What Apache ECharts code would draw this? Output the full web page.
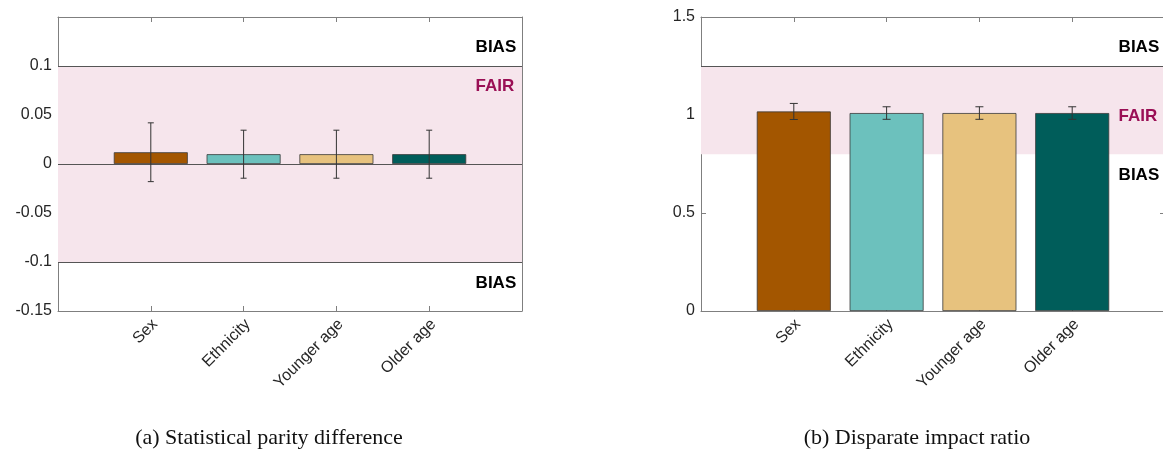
<!DOCTYPE html>
<html><head><meta charset="utf-8">
<script src="https://cdn.jsdelivr.net/npm/echarts@6/dist/echarts.min.js"></script>
<style>html,body{margin:0;padding:0;background:#fff;overflow:hidden}#c{width:1170px;height:449px}</style>
</head><body><div id="c"></div>
<script>
// ---- data ----
const categories = ['Sex', 'Ethnicity', 'Younger age', 'Older age'];
const barColors = ['#a35600', '#6cc1bd', '#e7c27e', '#005d5a'];
const spdValues = [0.012, 0.010, 0.010, 0.010];
const spdErrors = [0.030, 0.0245, 0.0245, 0.0245];
const dirValues = [1.018, 1.010, 1.010, 1.010];
const dirErrors = [0.041, 0.032, 0.032, 0.032];
const spdFairBand = [-0.1, 0.1];
const dirFairBand = [0.8, 1.25];
const spdTicks = [-0.15, -0.1, -0.05, 0, 0.05, 0.1];
const dirTicks = [0, 0.5, 1, 1.5];
const spdNotes = [[4.5, 0.119, 'BIAS'], [4.5, 0.079, 'FAIR'], [4.5, -0.122, 'BIAS']];
const dirNotes = [[4.5, 1.345, 'BIAS'], [4.5, 0.995, 'FAIR'], [4.5, 0.694, 'BIAS']];
const captions = ['(a) Statistical parity difference', '(b) Disparate impact ratio'];

const chart = echarts.init(document.getElementById('c'));
const AX = '#7f7f7f', TXT = '#262626', FONT = '"Liberation Sans", Arial, sans-serif';
const SERIF = '"Liberation Serif", "Times New Roman", serif';

function xAxes(gi) {
  return [
    { gridIndex: gi, type: 'value', min: 0, max: 5, interval: 1, position: 'bottom',
      axisLine: { show: true, onZero: false, lineStyle: { color: AX, width: 1 } },
      axisTick: { show: true, inside: true, length: 5, lineStyle: { color: AX } },
      splitLine: { show: false },
      axisLabel: { rotate: 45, color: TXT, fontFamily: FONT, fontSize: 16, margin: 15,
        padding: [11, -6, 0, 0],
        formatter: v => (v >= 1 && v <= categories.length) ? categories[v - 1] : '' } },
    { gridIndex: gi, type: 'value', min: 0, max: 5, interval: 1, position: 'top',
      axisLine: { show: true, onZero: false, lineStyle: { color: AX, width: 1 } },
      axisTick: { show: true, inside: true, length: 5, lineStyle: { color: AX } },
      splitLine: { show: false }, axisLabel: { show: false } }
  ];
}
function yAxes(gi, min, max, interval, ticks) {
  return [
    { gridIndex: gi, type: 'value', min, max, interval, position: 'left',
      axisLine: { show: true, onZero: false, lineStyle: { color: AX, width: 1 } },
      axisTick: { show: true, inside: true, length: 5, lineStyle: { color: AX } },
      splitLine: { show: false },
      axisLabel: { color: TXT, fontFamily: FONT, fontSize: 16, margin: 6,
        formatter: v => { const r = +v.toFixed(2); return ticks.some(t => Math.abs(t - r) < 1e-9) ? String(r) : ''; } } },
    { gridIndex: gi, type: 'value', min, max, interval, position: 'right',
      axisLine: { show: true, onZero: false, lineStyle: { color: AX, width: 1 } },
      axisTick: { show: true, inside: true, length: 5, lineStyle: { color: AX } },
      splitLine: { show: false }, axisLabel: { show: false } }
  ];
}

function barSeries(xi, yi, values) {
  return { type: 'bar', xAxisIndex: xi, yAxisIndex: yi, barWidth: 74, z: 3, silent: true,
    data: values.map((v, i) => ({ value: [i + 1, v], itemStyle: { color: barColors[i], borderColor: '#3a3a3a', borderWidth: 0.8 } })) };
}
function errSeries(xi, yi, values, errs, cap) {
  return { type: 'custom', xAxisIndex: xi, yAxisIndex: yi, z: 5, silent: true,
    data: values.map((v, i) => [i + 1, v - errs[i], v + errs[i]]),
    renderItem: (params, api) => {
      const lo = api.coord([api.value(0), api.value(1)]);
      const hi = api.coord([api.value(0), api.value(2)]);
      const st = { stroke: '#333', lineWidth: 1 };
      return { type: 'group', children: [
        { type: 'line', shape: { x1: lo[0], y1: lo[1], x2: hi[0], y2: hi[1] }, style: st },
        { type: 'line', shape: { x1: lo[0] - cap, y1: lo[1], x2: lo[0] + cap, y2: lo[1] }, style: st },
        { type: 'line', shape: { x1: hi[0] - cap, y1: hi[1], x2: hi[0] + cap, y2: hi[1] }, style: st }
      ] };
    } };
}
function bandSeries(xi, yi, band, lines) {
  return { type: 'line', xAxisIndex: xi, yAxisIndex: yi, data: [], z: 1, silent: true,
    markArea: { silent: true, itemStyle: { color: '#f6e5ec' }, data: [[{ yAxis: band[0] }, { yAxis: band[1] }]] },
    markLine: { silent: true, symbol: 'none', label: { show: false },
      lineStyle: { color: '#555', width: 1, type: 'solid' },
      data: lines.map(y => ({ yAxis: y })) } };
}
function noteSeries(xi, yi, notes) {
  return { type: 'custom', xAxisIndex: xi, yAxisIndex: yi, z: 6, silent: true,
    data: notes.map(n => [n[0], n[1]]),
    renderItem: (params, api) => {
      const p = api.coord([api.value(0), api.value(1)]);
      const t = notes[params.dataIndex][2];
      return { type: 'text', x: p[0], y: p[1],
        style: { text: t, fill: t === 'FAIR' ? '#9a0f55' : '#000',
          font: 'bold 17px ' + FONT, textAlign: 'left', textVerticalAlign: 'middle',
          align: 'left', verticalAlign: 'middle' } };
    } };
}

chart.setOption({
  animation: false,
  grid: [
    { left: 58, top: 17, width: 464, height: 294 },
    { left: 701, top: 17, width: 464, height: 294 }
  ],
  xAxis: [...xAxes(0), ...xAxes(1)],
  yAxis: [...yAxes(0, -0.15, 0.15, 0.05, spdTicks), ...yAxes(1, 0, 1.5, 0.5, dirTicks)],
  title: [
    { text: captions[0], left: 264, top: 422, textAlign: 'center',
      textStyle: { fontFamily: SERIF, fontWeight: 'normal', fontSize: 22, color: '#111' } },
    { text: captions[1], left: 912, top: 422, textAlign: 'center',
      textStyle: { fontFamily: SERIF, fontWeight: 'normal', fontSize: 22, color: '#111' } }
  ],
  series: [
    bandSeries(0, 0, spdFairBand, [spdFairBand[0], spdFairBand[1], 0]),
    barSeries(0, 0, spdValues),
    errSeries(0, 0, spdValues, spdErrors, 3),
    noteSeries(0, 0, spdNotes),
    bandSeries(2, 2, dirFairBand, [dirFairBand[1]]),
    barSeries(2, 2, dirValues),
    errSeries(2, 2, dirValues, dirErrors, 4),
    noteSeries(2, 2, dirNotes)
  ]
});
</script></body></html>
